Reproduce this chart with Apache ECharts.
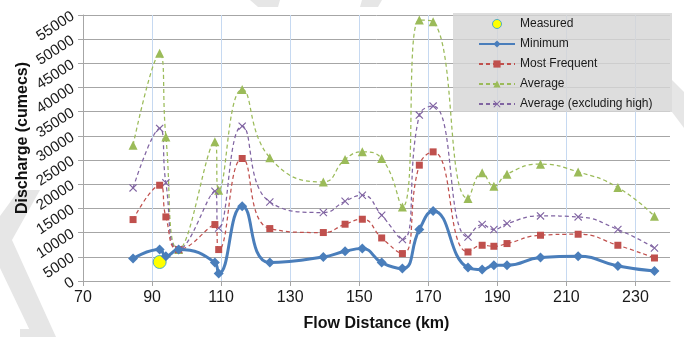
<!DOCTYPE html>
<html>
<head>
<meta charset="utf-8">
<script src="https://cdn.jsdelivr.net/npm/echarts@6/dist/echarts.min.js"></script>
<style>
html,body{margin:0;padding:0;background:#fff;}
#chart{width:684px;height:337px;}
</style>
</head>
<body>
<div id="chart"></div>
<script>
// Flow distance (km) of each station
var distanceKm = [84.5, 92.2, 94.0, 97.7, 108.2, 109.3, 116.1, 124.1, 139.6, 145.9, 150.9, 156.5, 162.5, 167.4, 171.4, 181.5, 185.6, 189.0, 192.8, 202.5, 213.4, 224.9, 235.5];
// Discharge (cumecs)
var minimum = [4630, 6500, 5110, 6500, 3800, 1530, 15460, 3800, 4970, 6150, 6700, 3800, 2570, 10640, 14490, 2770, 2360, 3250, 3250, 4840, 5110, 3100, 2070];
var mostFrequent = [12700, 19800, 13250, 6500, 11670, 6500, 25330, 10840, 10020, 11740, 12770, 8900, 5670, 23950, 26700, 6000, 7390, 7180, 7740, 9460, 9670, 7390, 4760];
var average = [28090, 47070, 29800, 6500, 28770, 18770, 39600, 25500, 20490, 25130, 26700, 25330, 15320, 53960, 53610, 17060, 22360, 19600, 22090, 24160, 22560, 19330, 13390];
var averageExclHigh = [19250, 31550, 20290, 6500, 18570, 10970, 32020, 16350, 14160, 16500, 17740, 13600, 8570, 34300, 36160, 9110, 11670, 10640, 11880, 13460, 13250, 10640, 6830];
var measuredKm = [92.2];
var measured = [3930];
var seriesNames = ['Measured', 'Minimum', 'Most Frequent', 'Average', 'Average (excluding high)'];
var xMin = 70, xMax = 240, xStep = 20;
var yMin = 0, yMax = 55000, yStep = 5000;

function pairs(xs, ys) { return xs.map(function (x, i) { return [x, ys[i]]; }); }

var FONT = 'Liberation Sans';
var chart = echarts.init(document.getElementById('chart'), null, {renderer: 'canvas'});
var xShape = 'path://M0,1L1,0L5,4L9,0L10,1L6,5L10,9L9,10L5,6L1,10L0,9L4,5Z';
var WM = '#e6e6e6';

var option = {
  animation: false,
  backgroundColor: '#ffffff',
  textStyle: {fontFamily: FONT},
  grid: {left: 83, right: 14, top: 15, bottom: 56, containLabel: false},
  xAxis: {
    type: 'value', min: xMin, max: xMax, interval: xStep,
    axisLine: {show: true, lineStyle: {color: '#a6a6a6', width: 1}},
    axisTick: {show: true, length: 5, lineStyle: {color: '#a6a6a6'}},
    axisLabel: {fontSize: 16, color: '#1a1a1a', margin: 9, fontFamily: FONT, showMaxLabel: false,
      formatter: function (v) { return v >= xMax ? '' : String(v); }},
    splitLine: {show: true, showMinLine: false, showMaxLine: false, lineStyle: {color: '#c6d9f1', width: 1}},
    name: 'Flow Distance (km)', nameLocation: 'middle', nameGap: 35,
    nameTextStyle: {fontSize: 16, fontWeight: 'bold', color: '#111', fontFamily: FONT}
  },
  yAxis: {
    type: 'value', min: yMin, max: yMax, interval: yStep,
    axisLine: {show: true, lineStyle: {color: '#a6a6a6', width: 1}},
    axisTick: {show: true, length: 5, lineStyle: {color: '#a6a6a6'}},
    axisLabel: {fontSize: 15, color: '#1a1a1a', margin: 10, rotate: 33, fontFamily: FONT,
      formatter: function (v) { return String(v); }},
    splitLine: {show: true, lineStyle: {color: '#a6a6a6', width: 1}}
  },
  legend: {
    orient: 'vertical', left: 473, top: 13,
    itemWidth: 36, itemHeight: 9, itemGap: 8,
    textStyle: {fontSize: 12, color: '#1a1a1a', fontFamily: FONT},
    data: [
      {name: seriesNames[0], icon: 'circle', itemStyle: {color: '#ffff00', borderColor: '#4bacc6', borderWidth: 1}},
      seriesNames[1], seriesNames[2], seriesNames[3], seriesNames[4]
    ]
  },
  graphic: [
    {type: 'polygon', z: -1, shape: {points: [[0, 216], [19, 190], [40, 190], [12, 240], [56, 337], [33, 337], [0, 268]]},
      style: {fill: WM}},
    {type: 'polygon', z: -1, shape: {points: [[20, 329], [50, 329], [52, 337], [20, 337]]}, style: {fill: WM}},
    {type: 'polygon', z: -1, shape: {points: [[250, 0], [280, 0], [278, 7], [258, 7]]}, style: {fill: WM}},
    {type: 'polygon', z: -1, shape: {points: [[362, 0], [382, 0], [378, 7], [360, 7]]}, style: {fill: WM}},
    {type: 'polygon', z: -1, shape: {points: [[672, 80], [684, 92], [684, 128], [672, 112]]}, style: {fill: WM}},
    {type: 'rect', z: 3, shape: {x: 453, y: 13, width: 219, height: 99},
      style: {fill: 'rgba(214,214,214,0.82)'}},
    {type: 'text', x: 23, y: 138, rotation: Math.PI / 2,
      style: {text: 'Discharge (cumecs)', font: 'bold 16px "Liberation Sans"', fill: '#111',
        align: 'center', verticalAlign: 'middle'}}
  ],
  series: [
    {name: seriesNames[3], type: 'line', smooth: 0.5, data: pairs(distanceKm, average),
      symbol: 'triangle', symbolSize: 9,
      itemStyle: {color: '#9bbb59'}, lineStyle: {color: '#9bbb59', width: 1.25, type: [4, 3]}},
    {name: seriesNames[4], type: 'line', smooth: 0.5, data: pairs(distanceKm, averageExclHigh),
      symbol: xShape, symbolSize: 8,
      itemStyle: {color: '#8064a2'}, lineStyle: {color: '#8064a2', width: 1.25, type: [4, 3]}},
    {name: seriesNames[2], type: 'line', smooth: 0.5, data: pairs(distanceKm, mostFrequent),
      symbol: 'rect', symbolSize: 7,
      itemStyle: {color: '#c0504d'}, lineStyle: {color: '#c0504d', width: 1.25, type: [4, 3]}},
    {name: seriesNames[1], type: 'line', smooth: 0.5, data: pairs(distanceKm, minimum),
      symbol: 'diamond', symbolSize: [10, 10],
      itemStyle: {color: '#4a7ebb'}, lineStyle: {color: '#4a7ebb', width: 3}},
    {name: seriesNames[0], type: 'scatter', data: pairs(measuredKm, measured),
      symbol: 'circle', symbolSize: 13,
      itemStyle: {color: '#ffff00', borderColor: '#4bacc6', borderWidth: 1, opacity: 1}}
  ]
};
chart.setOption(option);
</script>
</body>
</html>
